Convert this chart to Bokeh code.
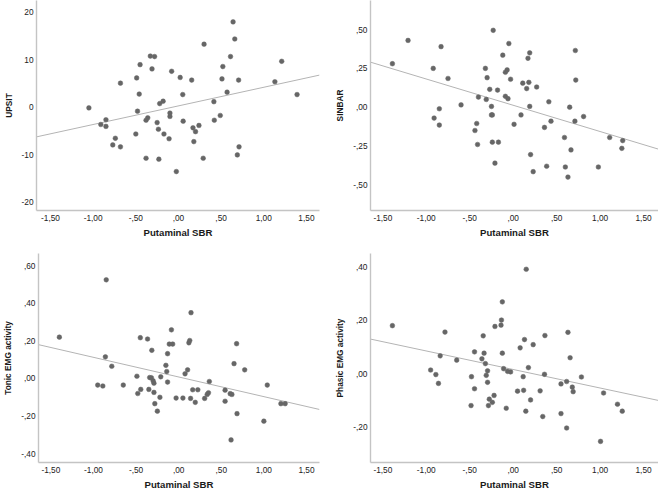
import numpy as np
from bokeh.plotting import figure
from bokeh.layouts import column, row
from bokeh.models import Range1d, FixedTicker
from bokeh.embed import file_html
from bokeh.resources import INLINE

# ---------------- data ----------------
x_label = "Putaminal SBR"
x_ticks = [-1.5, -1.0, -0.5, 0.0, 0.5, 1.0, 1.5]
x_tick_labels = ["-1,50", "-1,00", "-,50", ",00", ",50", "1,00", "1,50"]

# Panel 1: UPSIT
upsit_sbr = [-1.05, -0.91, -0.85, -0.85, -0.74, -0.77, -0.68, -0.68, -0.50, -0.49,
             -0.48, -0.46, -0.45, -0.38, -0.38, -0.36, -0.33, -0.28, -0.31, -0.25,
             -0.235, -0.23, -0.22, -0.18, -0.17, -0.11, -0.10, -0.10, -0.08, -0.025,
             0.02, 0.05, 0.055, 0.155, 0.17, 0.18, 0.20, 0.24, 0.29, 0.30,
             0.415, 0.42, 0.49, 0.51, 0.52, 0.57, 0.61, 0.64, 0.66, 0.69,
             0.705, 0.71, 1.13, 1.21, 1.39]
upsit = [-0.1, -3.6, -2.6, -4.0, -6.5, -7.9, 5.1, -8.3, -5.6, 6.2,
         -0.8, 2.8, 9.0, -10.7, -2.7, -2.2, 10.8, 10.7, 8.1, -3.2,
         -4.6, -10.9, 0.8, 1.3, -5.6, -6.6, -1.2, -1.9, 7.6, -13.5,
         6.3, 2.7, -2.9, 5.75, -4.3, -7.2, -5.1, -3.8, -10.7, 13.3,
         1.2, -2.7, -1.7, 6.0, 8.6, 3.2, 10.7, 18.0, 14.4, -10.0,
         5.75, -8.3, 5.4, 9.7, 2.7]
upsit_fit = [0.32, 3.92]          # intercept, slope
upsit_ticks = [-20, -10, 0, 10, 20]
upsit_tick_labels = ["-20", "-10", "0", "10", "20"]

# Panel 2: SINBAR
sinbar_sbr = [-1.39, -1.21, -0.92, -0.83, -0.75, -0.85, -0.91, -0.85, -0.60, -0.44,
              -0.42, -0.41, -0.40, -0.32, -0.30, -0.31, -0.27, -0.25, -0.25, -0.24,
              -0.24, -0.23, -0.21, -0.18, -0.17, -0.12, -0.09, -0.07, -0.09, -0.06,
              -0.05, -0.03, 0.01, 0.09, 0.11, 0.155, 0.17, 0.18, 0.19, 0.19,
              0.20, 0.23, 0.27, 0.36, 0.385, 0.41, 0.435, 0.59, 0.60, 0.63,
              0.65, 0.665, 0.71, 0.715, 0.72, 0.81, 0.98, 1.11, 1.25, 1.26]
sinbar = [0.28, 0.43, 0.25, 0.39, 0.185, -0.01, -0.07, -0.115, 0.015, -0.15,
          -0.105, -0.24, 0.065, 0.25, 0.19, 0.05, 0.115, 0.005, -0.05, -0.05,
          -0.225, 0.495, -0.36, 0.11, -0.225, 0.335, 0.225, 0.24, 0.07, 0.055,
          0.41, 0.18, -0.11, -0.05, 0.155, 0.12, 0.315, 0.16, 0.35, 0.005,
          -0.305, -0.415, 0.13, -0.13, -0.38, 0.035, -0.09, -0.195, -0.385, -0.45,
          0.0, -0.275, -0.09, 0.365, 0.175, -0.06, -0.385, -0.195, -0.265, -0.215]
sinbar_fit = [0.0125, -0.169]
sinbar_ticks = [-0.5, -0.25, 0.0, 0.25, 0.5]
sinbar_tick_labels = ["-,50", "-,25", ",00", ",25", ",50"]

# Panel 3: Tonic EMG activity
tonic_sbr = [-1.40, -0.95, -0.89, -0.86, -0.85, -0.785, -0.65, -0.49, -0.48, -0.45,
             -0.445, -0.365, -0.35, -0.34, -0.32, -0.315, -0.30, -0.29, -0.29, -0.28,
             -0.25, -0.22, -0.21, -0.15, -0.14, -0.13, -0.13, -0.11, -0.085, -0.07,
             -0.03, 0.05, 0.075, 0.105, 0.12, 0.13, 0.14, 0.145, 0.165, 0.195,
             0.225, 0.305, 0.335, 0.35, 0.36, 0.545, 0.545, 0.605, 0.615, 0.625,
             0.65, 0.68, 0.685, 0.775, 1.00, 1.04, 1.20, 1.25]
tonic = [0.22, -0.035, -0.04, 0.115, 0.525, 0.065, -0.035, 0.012, -0.08, 0.217,
         -0.058, 0.21, -0.058, 0.005, 0.004, 0.15, -0.012, -0.025, -0.074, -0.134,
         -0.174, -0.10, 0.009, 0.07, 0.037, 0.132, -0.019, 0.183, 0.259, 0.183,
         -0.104, -0.104, 0.025, 0.046, 0.19, 0.202, -0.106, 0.35, -0.06, -0.127,
         -0.06, -0.106, -0.085, -0.076, -0.016, -0.062, -0.121, -0.081, -0.327, -0.085,
         0.079, 0.185, -0.187, 0.046, -0.227, -0.035, -0.134, -0.134]
tonic_fit = [0.008, -0.1046]
tonic_ticks = [-0.4, -0.2, 0.0, 0.2, 0.4, 0.6]
tonic_tick_labels = ["-,40", "-,20", ",00", ",20", ",40", ",60"]

# Panel 4: Phasic EMG activity
phasic_sbr = [-1.39, -0.95, -0.89, -0.86, -0.84, -0.785, -0.65, -0.485, -0.48, -0.445,
              -0.445, -0.36, -0.345, -0.335, -0.32, -0.31, -0.295, -0.295, -0.285, -0.275,
              -0.24, -0.22, -0.21, -0.14, -0.135, -0.125, -0.125, -0.11, -0.08, -0.065,
              -0.03, 0.05, 0.08, 0.115, 0.12, 0.13, 0.145, 0.15, 0.175, 0.20,
              0.23, 0.31, 0.34, 0.36, 0.365, 0.55, 0.55, 0.615, 0.615, 0.63,
              0.655, 0.68, 0.69, 0.785, 1.005, 1.04, 1.20, 1.255]
phasic = [0.18, 0.014, -0.003, -0.036, 0.067, 0.156, 0.051, -0.119, -0.011, 0.082,
          -0.056, 0.056, 0.142, 0.077, 0.038, -0.006, 0.011, -0.032, -0.119, -0.095,
          -0.107, -0.081, 0.177, 0.182, 0.201, 0.269, 0.077, 0.019, -0.129, 0.009,
          0.007, -0.065, 0.097, -0.011, -0.062, 0.128, -0.14, 0.391, 0.023, -0.098,
          0.109, -0.064, -0.16, -0.002, 0.143, -0.038, -0.149, -0.029, -0.203, 0.155,
          0.06, -0.05, -0.067, -0.012, -0.253, -0.072, -0.114, -0.14]
phasic_fit = [0.016, -0.0693]
phasic_ticks = [-0.2, 0.0, 0.2, 0.4]
phasic_tick_labels = ["-,20", ",00", ",20", ",40"]

# ---------------- styling ----------------
FONT = "Liberation Sans"
POINT = "#666666"
FITC = "#b4b4b4"
AXISC = "#c4c4c4"


def panel(xs, ys, fit, ylab, yticks, ylabels, xr, yr, w, h, borders):
    left, right, top, bottom = borders
    p = figure(width=w, height=h, output_backend="svg", toolbar_location=None,
               x_range=Range1d(*xr), y_range=Range1d(*yr),
               min_border_left=left, min_border_right=right,
               min_border_top=top, min_border_bottom=bottom)
    p.outline_line_color = None
    p.grid.visible = False
    p.background_fill_color = "white"
    p.border_fill_color = "white"

    for ax in (p.xaxis[0], p.yaxis[0]):
        ax.axis_line_color = AXISC
        ax.axis_line_width = 1.4
        ax.major_tick_line_color = None
        ax.minor_tick_line_color = None
        ax.major_tick_out = 0
        ax.major_tick_in = 0
        ax.major_label_text_font = FONT
        ax.major_label_text_font_size = "8.3px"
        ax.major_label_text_color = "#222222"
        ax.axis_label_text_font = FONT
        ax.axis_label_text_font_style = "bold"
        ax.axis_label_text_color = "#1a1a1a"

    p.xaxis.ticker = FixedTicker(ticks=x_ticks)
    p.xaxis.major_label_overrides = dict(zip(x_ticks, x_tick_labels))
    p.xaxis.axis_label = x_label
    p.xaxis.axis_label_text_font_size = "9.6px"
    p.xaxis.major_label_standoff = 4
    p.xaxis.axis_label_standoff = 3

    p.yaxis.ticker = FixedTicker(ticks=yticks)
    p.yaxis.major_label_overrides = dict(zip(yticks, ylabels))
    p.yaxis.axis_label = ylab
    p.yaxis.axis_label_text_font_size = "8.3px"
    p.yaxis.major_label_standoff = 3
    p.yaxis.axis_label_standoff = 5

    a, b = fit
    fx = np.array([xr[0], xr[1]])
    p.line(fx, a + b * fx, line_color=FITC, line_width=1)
    p.scatter(xs, ys, size=4.7, fill_color=POINT, line_color=POINT, line_width=0.5)
    return p


p1 = panel(upsit_sbr, upsit, upsit_fit, "UPSIT", upsit_ticks, upsit_tick_labels,
           (-1.664, 1.653), (-21.7, 22.5), 328, 246, (30, 9, 0, 36))
p2 = panel(sinbar_sbr, sinbar, sinbar_fit, "SINBAR", sinbar_ticks, sinbar_tick_labels,
           (-1.642, 1.672), (-0.665, 0.687), 330, 246, (42, 0, 0, 36))
p3 = panel(tonic_sbr, tonic, tonic_fit, "Tonic EMG activity", tonic_ticks, tonic_tick_labels,
           (-1.645, 1.653), (-0.447, 0.665), 328, 246, (32, 9, 7, 29))
p4 = panel(phasic_sbr, phasic, phasic_fit, "Phasic EMG activity", phasic_ticks, phasic_tick_labels,
           (-1.642, 1.672), (-0.332, 0.45), 330, 246, (42, 0, 7, 29))

layout = column(row(p1, p2, spacing=0), row(p3, p4, spacing=0), spacing=0)

open("out.html", "w").write(file_html(layout, INLINE))
